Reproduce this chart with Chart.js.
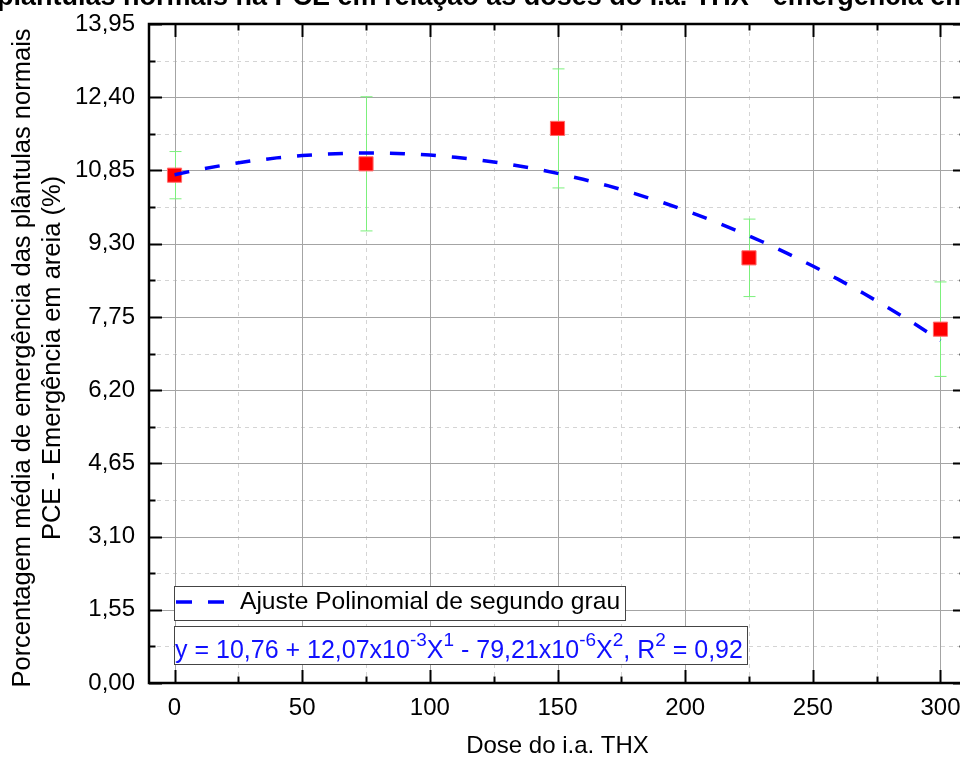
<!DOCTYPE html>
<html>
<head>
<meta charset="utf-8">
<script src="https://cdn.jsdelivr.net/npm/chart.js@4.4.1/dist/chart.umd.min.js"></script>
<style>
  html, body { margin: 0; padding: 0; background: #fff; overflow: hidden; width: 960px; height: 757px; }
  canvas { display: block; }
</style>
</head>
<body>
<canvas id="c" width="977" height="757"></canvas>
<script>
// Doses of the active ingredient (THX) and mean emergence of normal seedlings (%)
const doses = [0, 75, 150, 225, 300];
const emergence = [10.75, 10.99, 11.74, 9.00, 7.49];
const emergenceError = [0.50, 1.42, 1.26, 0.82, 1.00];

// Second-degree polynomial fit: y = b0 + b1*x + b2*x^2
const fitCoefficients = [10.76, 12.07e-3, -79.21e-6];
const fitDoses = [0, 10, 20, 30, 40, 50, 60, 70, 80, 90, 100, 110, 120, 130, 140, 150,
                  160, 170, 180, 190, 200, 210, 220, 230, 240, 250, 260, 270, 280, 290, 300];

// Axis ticks
const xTicks = [0, 50, 100, 150, 200, 250, 300];
const xMinorTicks = [25, 75, 125, 175, 225, 275];
const yTicks = [0, 1.55, 3.10, 4.65, 6.20, 7.75, 9.30, 10.85, 12.40, 13.95];
const yMinorTicks = [0.775, 2.325, 3.875, 5.425, 6.975, 8.525, 10.075, 11.625, 13.175];

const chartTitle = 'Porcentagem média de emergência das plântulas normais na PCE em relação às doses do i.a. THX - emergência em areia';
const yTitleLines = ['Porcentagem média de emergência das plântulas normais', 'PCE - Emergência em areia (%)'];
const xTitle = 'Dose do i.a. THX';
const legendLabel = 'Ajuste Polinomial de segundo grau';
const equationParts = [
  ['y = 10,76 + 12,07x10', false], ['-3', true], ['X', false], ['1', true],
  [' - 79,21x10', false], ['-6', true], ['X', false], ['2', true],
  [', R', false], ['2', true], [' = 0,92', false]
];

const FONT = '"Liberation Sans", Arial, sans-serif';

const fitPoints = fitDoses.map(d => ({
  x: d,
  y: fitCoefficients[0] + fitCoefficients[1] * d + fitCoefficients[2] * d * d
}));
const dataPoints = doses.map((d, i) => ({ x: d, y: emergence[i] }));

const fmtComma = v => v.toFixed(2).replace('.', ',');

// Grid lines (major solid, minor dashed) and error bars under the marks
const backgroundPlugin = {
  id: 'background',
  beforeDatasetsDraw(chart) {
    const { ctx, chartArea: a, scales: { x, y } } = chart;
    ctx.save();
    ctx.lineWidth = 1;
    ctx.strokeStyle = '#d4d4d4';
    ctx.setLineDash([4, 4]);
    xMinorTicks.forEach(v => {
      const px = Math.round(x.getPixelForValue(v)) + 0.5;
      ctx.beginPath(); ctx.moveTo(px, a.top); ctx.lineTo(px, a.bottom); ctx.stroke();
    });
    yMinorTicks.forEach(v => {
      const py = Math.round(y.getPixelForValue(v)) + 0.5;
      ctx.beginPath(); ctx.moveTo(a.left, py); ctx.lineTo(a.right, py); ctx.stroke();
    });
    ctx.setLineDash([]);
    ctx.strokeStyle = '#a4a4a4';
    xTicks.forEach(v => {
      const px = Math.round(x.getPixelForValue(v)) + 0.5;
      ctx.beginPath(); ctx.moveTo(px, a.top); ctx.lineTo(px, a.bottom); ctx.stroke();
    });
    yTicks.forEach(v => {
      const py = Math.round(y.getPixelForValue(v)) + 0.5;
      ctx.beginPath(); ctx.moveTo(a.left, py); ctx.lineTo(a.right, py); ctx.stroke();
    });

    // error bars
    ctx.strokeStyle = '#7cf07c';
    ctx.lineWidth = 1;
    doses.forEach((d, i) => {
      const px = Math.round(x.getPixelForValue(d)) + 0.5;
      const top = y.getPixelForValue(emergence[i] + emergenceError[i]);
      const bot = y.getPixelForValue(emergence[i] - emergenceError[i]);
      ctx.beginPath();
      ctx.moveTo(px, top); ctx.lineTo(px, bot);
      ctx.moveTo(px - 6, top); ctx.lineTo(px + 6, top);
      ctx.moveTo(px - 6, bot); ctx.lineTo(px + 6, bot);
      ctx.stroke();
    });
    ctx.restore();
  }
};

// Frame with inward ticks on all four sides, titles, legend and equation box
const foregroundPlugin = {
  id: 'foreground',
  afterDraw(chart) {
    const { ctx, chartArea: a, scales: { x, y } } = chart;
    ctx.save();
    ctx.strokeStyle = '#000';
    ctx.lineWidth = 2.5;
    ctx.strokeRect(a.left, a.top, a.right - a.left, a.bottom - a.top);
    ctx.lineWidth = 2;
    ctx.beginPath();
    const tickX = (v, len) => {
      const px = Math.round(x.getPixelForValue(v)) + 0.5;
      ctx.moveTo(px, a.bottom); ctx.lineTo(px, a.bottom - len);
      ctx.moveTo(px, a.top); ctx.lineTo(px, a.top + len);
    };
    const tickY = (v, len) => {
      const py = Math.round(y.getPixelForValue(v)) + 0.5;
      ctx.moveTo(a.left, py); ctx.lineTo(a.left + len, py);
      ctx.moveTo(a.right, py); ctx.lineTo(a.right - len, py);
    };
    xTicks.forEach(v => tickX(v, 13));
    xMinorTicks.forEach(v => tickX(v, 6.5));
    yTicks.forEach(v => tickY(v, 13));
    yMinorTicks.forEach(v => tickY(v, 6.5));
    ctx.stroke();

    // chart title (runs past the top edge)
    ctx.fillStyle = '#000';
    ctx.font = 'bold 27px ' + FONT;
    ctx.textAlign = 'left';
    ctx.textBaseline = 'alphabetic';
    const lead = ctx.measureText('Porcentagem média de emergência das ').width;
    ctx.fillText(chartTitle, -3 - lead, 5);

    // y axis title
    ctx.font = '25.5px ' + FONT;
    ctx.textAlign = 'center';
    ctx.textBaseline = 'middle';
    ctx.save();
    ctx.translate(23, 358);
    ctx.rotate(-Math.PI / 2);
    ctx.fillText(yTitleLines[0], 0, 0);
    ctx.fillText(yTitleLines[1], 0, 30);
    ctx.restore();

    // x axis title
    ctx.font = '24px ' + FONT;
    ctx.fillText(xTitle, (a.left + a.right) / 2, 746);

    // legend box
    ctx.fillStyle = '#fff';
    ctx.fillRect(174, 586, 451, 34);
    ctx.strokeStyle = '#444';
    ctx.lineWidth = 1;
    ctx.strokeRect(174.5, 586.5, 451, 34);
    ctx.strokeStyle = '#0000ff';
    ctx.lineWidth = 3.5;
    ctx.beginPath();
    ctx.moveTo(176, 602); ctx.lineTo(192, 602);
    ctx.moveTo(208, 602); ctx.lineTo(224, 602);
    ctx.stroke();
    ctx.fillStyle = '#000';
    ctx.textAlign = 'left';
    ctx.textBaseline = 'middle';
    ctx.font = '24.6px ' + FONT;
    ctx.fillText(legendLabel, 240, 602);

    // equation box
    ctx.fillStyle = '#fff';
    ctx.fillRect(174, 626, 573, 38);
    ctx.strokeStyle = '#444';
    ctx.lineWidth = 1;
    ctx.strokeRect(174.5, 626.5, 573, 38);
    ctx.fillStyle = '#1010ff';
    ctx.textBaseline = 'alphabetic';
    let cx = 175;
    equationParts.forEach(([t, sup]) => {
      ctx.font = (sup ? '19px ' : '25px ') + FONT;
      ctx.fillText(t, cx, sup ? 646 : 658);
      cx += ctx.measureText(t).width;
    });
    ctx.restore();
  }
};

new Chart(document.getElementById('c'), {
  data: {
    datasets: [
      {
        type: 'line',
        label: legendLabel,
        data: fitPoints,
        borderColor: '#0000ff',
        borderWidth: 3.5,
        borderDash: [15, 16],
        pointRadius: 0,
        fill: false,
        tension: 0,
        order: 0
      },
      {
        type: 'scatter',
        label: 'Emergência',
        data: dataPoints,
        pointStyle: 'rect',
        pointRadius: 10,
        backgroundColor: '#ff0000',
        borderColor: '#ff6a6a',
        borderWidth: 1,
        order: 1
      }
    ]
  },
  options: {
    responsive: false,
    animation: false,
    layout: { padding: { top: 24, right: 5, left: 0, bottom: 0 } },
    plugins: { legend: { display: false }, tooltip: { enabled: false }, title: { display: false } },
    scales: {
      x: {
        type: 'linear',
        min: -10,
        max: 310,
        grid: { display: false, drawTicks: false },
        border: { display: false },
        afterBuildTicks: s => { s.ticks = xTicks.map(v => ({ value: v })); },
        afterFit: s => { s.height = 74; s.paddingLeft = 0; s.paddingRight = 0; },
        ticks: { color: '#000', font: { family: FONT, size: 24 }, padding: 11, maxRotation: 0,
                 callback: v => String(v) }
      },
      y: {
        type: 'linear',
        min: 0,
        max: 13.95,
        grid: { display: false, drawTicks: false },
        border: { display: false },
        afterBuildTicks: s => { s.ticks = yTicks.map(v => ({ value: v })); },
        afterFit: s => { s.width = 149; s.paddingTop = 0; s.paddingBottom = 0; },
        ticks: { color: '#000', font: { family: FONT, size: 24 }, padding: 14,
                 callback: v => fmtComma(v) }
      }
    }
  },
  plugins: [backgroundPlugin, foregroundPlugin]
});
</script>
</body>
</html>
